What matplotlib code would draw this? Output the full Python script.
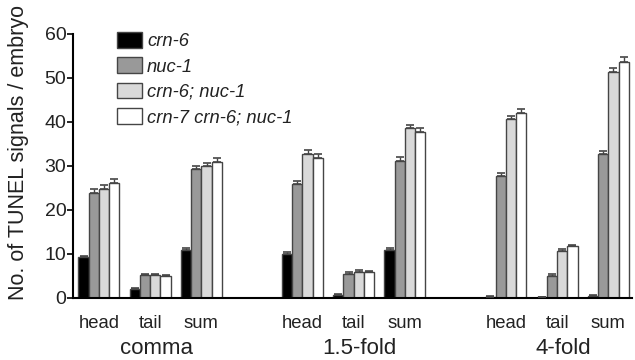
import matplotlib
matplotlib.use("Agg")
import matplotlib.pyplot as plt
import numpy as np

plt.rcParams['font.family'] = ['Liberation Sans', 'DejaVu Sans']

stages = ["comma", "1.5-fold", "4-fold"]
regions = ["head", "tail", "sum"]
series = ["crn-6", "nuc-1", "crn-6; nuc-1", "crn-7 crn-6; nuc-1"]
colors = ["#000000", "#999999", "#d9d9d9", "#ffffff"]

# values[stage][region] -> per-series
crn6 = [[9.2, 2.0, 10.9], [9.9, 0.7, 10.8], [0.2, 0.1, 0.4]]
nuc1 = [[23.9, 5.1, 29.2], [25.8, 5.5, 31.2], [27.6, 5.0, 32.6]]
crn6_nuc1 = [[24.7, 5.1, 29.9], [32.7, 5.9, 38.5], [40.6, 10.7, 51.4]]
crn7_crn6_nuc1 = [[26.0, 4.9, 30.9], [31.7, 5.8, 37.6], [42.0, 11.7, 53.7]]

crn6_err = [[0.4, 0.2, 0.5], [0.4, 0.2, 0.4], [0.1, 0.1, 0.2]]
nuc1_err = [[0.8, 0.2, 0.7], [0.8, 0.3, 0.8], [0.8, 0.3, 0.8]]
crn6_nuc1_err = [[0.9, 0.2, 0.8], [0.8, 0.3, 0.8], [0.8, 0.4, 0.9]]
crn7_crn6_nuc1_err = [[1.0, 0.2, 0.9], [0.9, 0.3, 0.9], [1.0, 0.4, 1.0]]

all_vals = [crn6, nuc1, crn6_nuc1, crn7_crn6_nuc1]
all_errs = [crn6_err, nuc1_err, crn6_nuc1_err, crn7_crn6_nuc1_err]

W, H = 635, 360
fig = plt.figure(figsize=(W / 100, H / 100), dpi=100)
ax_left, ax_right, ax_bot, ax_top = 73.3, 632, 297.7, 34
ax = fig.add_axes([ax_left / W, 1 - ax_bot / H, (ax_right - ax_left) / W, (ax_bot - ax_top) / H])

stage_step = 19.85
region_step = 5.0
start = 0.5
edge = "#454545"
txt = "#222222"

for si in range(4):
    xs, ys, es = [], [], []
    for g in range(3):
        for r in range(3):
            xs.append(start + g * stage_step + r * region_step + si + 0.5)
            ys.append(all_vals[si][g][r])
            es.append(all_errs[si][g][r])
    ax.bar(xs, ys, width=1.0, color=colors[si], edgecolor=edge, linewidth=1.0,
           label=series[si], zorder=2)
    ax.errorbar(xs, ys, yerr=[np.zeros(len(es)), es], fmt='none', ecolor=edge,
                elinewidth=1.0, capsize=3.0, capthick=1.2, zorder=3)

ax.set_xlim(0, (ax_right - ax_left) / 10.25)
ax.set_ylim(0, 60)
ax.set_yticks(np.arange(0, 61, 10))
ax.tick_params(axis='y', direction='out', length=4, width=1.2, labelsize=14,
               pad=1, labelcolor=txt)
ax.set_xticks([])
for s in ['top', 'right']:
    ax.spines[s].set_visible(False)
ax.spines['left'].set_linewidth(1.5)
ax.spines['bottom'].set_linewidth(1.5)
ax.spines['left'].set_zorder(4)

trans = ax.get_xaxis_transform()
axh = ax_bot - ax_top
for g, st in enumerate(stages):
    for r, rg in enumerate(regions):
        xc = start + g * stage_step + r * region_step + 2.0
        ax.text(xc, -25.5 / axh, rg, transform=trans, ha='center', va='center',
                fontsize=13.3, color=txt)
    xc = start + g * stage_step + region_step + 2.0 + 0.6
    ax.text(xc, -50.5 / axh, st, transform=trans, ha='center', va='center',
            fontsize=16, color=txt)

fig.text(19 / W, 1 - 152 / H, "No. of TUNEL signals / embryo", rotation=90,
         ha='center', va='center', fontsize=15.5, color=txt)

leg = ax.legend(loc='upper left', bbox_to_anchor=(116.7 / W, 1 - 32 / H),
                bbox_transform=fig.transFigure, frameon=False, borderpad=0,
                borderaxespad=0, handlelength=1.36, handleheight=0.93,
                handletextpad=0.3, labelspacing=0.4,
                prop={'style': 'italic', 'size': 13.2})
for t in leg.get_texts():
    t.set_color(txt)

fig.savefig("out.png", dpi=100)
